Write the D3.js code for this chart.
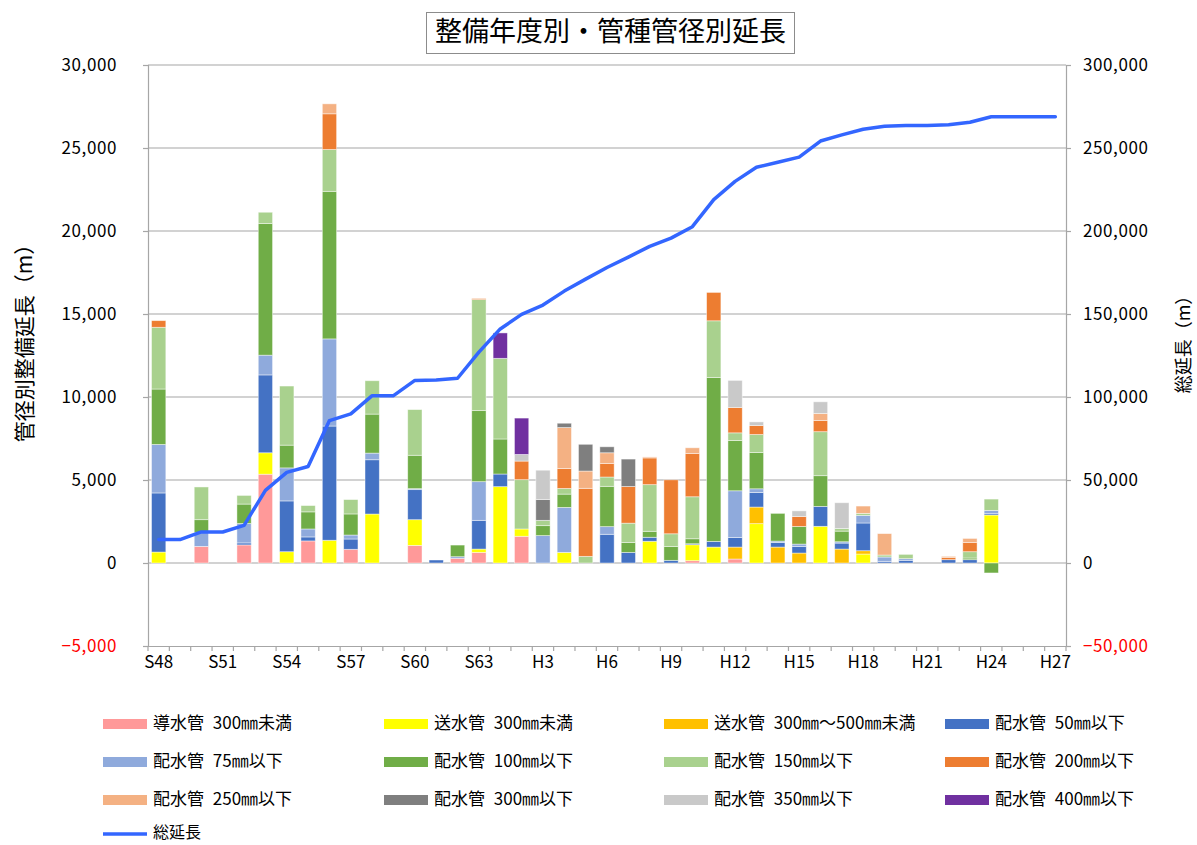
<!DOCTYPE html>
<html lang="ja">
<head>
<meta charset="utf-8">
<title>整備年度別・管種管径別延長</title>
<script src="https://cdn.jsdelivr.net/npm/d3@7"></script>
<style>
  html, body { margin: 0; padding: 0; background: #fff; }
  svg { display: block; font-family: "Noto Sans CJK JP", "Noto Sans", sans-serif; }
</style>
</head>
<body>
<svg id="chart" width="1197" height="845"></svg>
<script>
// 整備年度 (S48〜H27)
const years = ["S48","S49","S50","S51","S52","S53","S54","S55","S56","S57","S58","S59","S60","S61","S62","S63",
  "H1","H2","H3","H4","H5","H6","H7","H8","H9","H10","H11","H12","H13","H14","H15","H16","H17","H18","H19","H20",
  "H21","H22","H23","H24","H25","H26","H27"];
const tickYears = ["S48","S51","S54","S57","S60","S63","H3","H6","H9","H12","H15","H18","H21","H24","H27"];

// 管種・管径別 整備延長 (m)
const dousui300   = [0,0,1000,0,1090,5350,0,1330,0,825,0,0,1060,0,280,640,0,1610,0,0,0,0,0,0,0,140,0,240,0,0,0,0,0,0,0,0,0,0,0,0,0,0,0];
const sousui300   = [660,0,0,0,0,1290,680,0,1370,0,2950,0,1550,0,0,200,4600,440,0,640,0,0,0,1310,0,960,960,0,2370,0,0,2210,0,540,0,0,0,0,0,2890,0,0,0];
const sousui500   = [0,0,0,0,0,0,0,0,0,0,0,0,0,0,0,0,0,0,0,0,0,0,0,0,0,0,0,720,1000,960,600,0,840,200,0,0,0,0,0,0,0,0,0];
const haisui50    = [3560,0,0,0,120,4690,3060,240,6880,620,3270,0,1810,180,0,1730,760,0,0,0,0,1730,640,240,160,60,340,580,880,280,400,1200,360,1670,100,160,0,200,200,80,0,0,0];
const haisui75    = [2920,0,845,0,1170,1190,1990,480,5250,240,400,0,60,0,100,2330,0,0,1650,2710,0,460,0,0,0,0,0,2810,220,80,140,0,80,460,260,100,0,0,0,200,0,0,0];
const haisui100   = [3340,0,765,0,1170,7930,1370,1030,8890,1270,2350,0,2010,0,700,4280,2110,0,600,800,0,2430,600,360,840,300,9880,3030,2190,1670,1060,1850,640,0,0,0,0,0,100,-600,0,0,0];
const haisui150   = [3720,0,1970,0,520,680,3560,380,2520,865,2010,0,2750,0,0,6690,4860,2970,320,340,400,560,1160,2810,760,2530,3410,460,1080,0,0,2650,160,120,120,260,0,0,380,680,0,0,0];
const haisui200   = [400,0,0,0,0,0,0,0,2150,0,0,0,0,0,0,60,0,1120,0,1200,4100,820,2210,1610,3250,2610,1710,1530,540,0,600,680,0,0,0,0,0,140,560,0,0,0,0];
const haisui250   = [0,0,0,0,0,0,0,0,600,0,0,0,0,0,0,0,0,0,0,2470,1040,640,0,60,0,340,0,0,0,0,0,420,0,440,1290,0,0,60,240,0,0,0,0];
const haisui300   = [0,0,0,0,0,0,0,0,0,0,0,0,0,0,0,0,0,0,1250,260,1610,360,1650,0,0,0,0,0,0,0,0,0,0,0,0,0,0,0,0,0,0,0,0];
const haisui350   = [0,0,0,0,0,0,0,0,0,0,0,0,0,0,0,0,0,400,1770,0,0,0,0,0,0,0,0,1630,220,0,340,700,1550,0,0,0,0,0,0,0,0,0,0];
const haisui400   = [0,0,0,0,0,0,0,0,0,0,0,0,0,0,0,0,1530,2190,0,0,0,0,0,0,0,0,0,0,0,0,0,0,0,0,0,0,0,0,0,0,0,0,0];

// 総延長 (m)
const totalLength = [14100,14100,18700,18700,22700,43800,54600,58100,85800,89800,100800,100800,110000,110200,111300,127000,
  141000,149800,155400,163800,171000,178000,184300,190700,195700,202600,218900,229900,238400,241400,244500,254200,
  257900,261300,263100,263600,263600,264000,265500,268800,268800,268800,268800];

const seriesNames = ["導水管 300㎜未満","送水管 300㎜未満","送水管 300㎜～500㎜未満","配水管 50㎜以下",
  "配水管 75㎜以下","配水管 100㎜以下","配水管 150㎜以下","配水管 200㎜以下",
  "配水管 250㎜以下","配水管 300㎜以下","配水管 350㎜以下","配水管 400㎜以下"];
const seriesValues = [dousui300, sousui300, sousui500, haisui50, haisui75, haisui100, haisui150, haisui200,
  haisui250, haisui300, haisui350, haisui400];
const seriesColors = ["#FF9999","#FFFF00","#FFC000","#4472C4","#8FAADC","#70AD47","#A9D18E","#ED7D31",
  "#F4B183","#7F7F7F","#C9C9C9","#7030A0"];
const lineName = "総延長";
const lineColor = "#3366FF";

const svg = d3.select("#chart");
const plot = { left: 148, right: 1066, top: 65, bottom: 646 };

// 年度ごとの行データ
const rows = years.map((yr, i) => {
  const r = { year: yr };
  seriesNames.forEach((n, k) => { r[n] = seriesValues[k][i]; });
  return r;
});

const x = d3.scaleBand().domain(years).range([plot.left, plot.right])
  .paddingInner(0.33).paddingOuter(0.165);
const y = d3.scaleLinear().domain([-5000, 30000]).range([plot.bottom, plot.top]);
const y2 = d3.scaleLinear().domain([-50000, 300000]).range([plot.bottom, plot.top]);

const gridColor = "#A6A6A6";
const fmt = d3.format(",");

// 目盛線
svg.append("g").selectAll("line")
  .data(d3.range(0, 30001, 5000))
  .join("line")
  .attr("x1", plot.left).attr("x2", plot.right)
  .attr("y1", d => y(d)).attr("y2", d => y(d))
  .attr("stroke", gridColor).attr("stroke-width", 1.2);

// 積み上げ棒
const stack = d3.stack().keys(seriesNames).offset(d3.stackOffsetDiverging);
const layers = stack(rows);
svg.append("g").selectAll("g")
  .data(layers)
  .join("g")
  .attr("fill", (d, k) => seriesColors[k])
  .selectAll("rect")
  .data(d => d.filter(s => s[1] - s[0] !== 0))
  .join("rect")
  .attr("x", d => x(d.data.year))
  .attr("width", x.bandwidth())
  .attr("y", d => y(Math.max(d[0], d[1])))
  .attr("height", d => Math.abs(y(d[0]) - y(d[1])))
  .attr("stroke", "#ffffff").attr("stroke-opacity", 0.55).attr("stroke-width", 0.8);

// 左軸
const yAxis = d3.axisLeft(y).tickValues(d3.range(-5000, 30001, 5000)).tickSize(5).tickPadding(26).tickFormat(fmt);
const gl = svg.append("g").attr("transform", `translate(${plot.left},0)`).call(yAxis);
// 右軸
const y2Axis = d3.axisRight(y2).tickValues(d3.range(-50000, 300001, 50000)).tickSize(5).tickPadding(12).tickFormat(fmt);
const gr = svg.append("g").attr("transform", `translate(${plot.right},0)`).call(y2Axis);
// 横軸
const xAxis = d3.axisBottom(x).tickValues(tickYears).tickSize(0).tickPadding(10);
const gb = svg.append("g").attr("transform", `translate(0,${plot.bottom})`).call(xAxis);

[gl, gr, gb].forEach(g => {
  g.select(".domain").attr("stroke", gridColor).attr("stroke-width", 1.2);
  g.selectAll(".tick line").attr("stroke", gridColor).attr("stroke-width", 1.2);
  g.selectAll("text").attr("fill", "#000").attr("font-size", 17)
    .attr("font-family", "\"Noto Sans CJK JP\", sans-serif");
});
gl.selectAll(".tick text").attr("letter-spacing", 0.6).filter(d => d < 0).attr("fill", "#FF0000");
gr.selectAll(".tick text").attr("letter-spacing", 0.6).filter(d => d < 0).attr("fill", "#FF0000");

// 横軸の区切り目盛 (年度の境界)
const step = x.step();
const bounds = d3.range(years.length + 1).map(i => x(years[0]) - x.paddingInner() * step / 2 + i * step);
svg.append("g").selectAll("line")
  .data(bounds)
  .join("line")
  .attr("x1", d => d).attr("x2", d => d)
  .attr("y1", plot.bottom).attr("y2", plot.bottom + 5)
  .attr("stroke", gridColor).attr("stroke-width", 1.2);

// 総延長の折れ線
const line = d3.line()
  .x((d, i) => x(years[i]) + x.bandwidth() / 2)
  .y(d => y2(d));
svg.append("path")
  .datum(totalLength)
  .attr("d", line)
  .attr("fill", "none")
  .attr("stroke", lineColor)
  .attr("stroke-width", 3.5)
  .attr("stroke-linejoin", "round")
  .attr("stroke-linecap", "round");

// 軸タイトル
svg.append("text")
  .attr("transform", "translate(26,338) rotate(-90)")
  .attr("text-anchor", "middle").attr("dominant-baseline", "middle")
  .attr("font-size", 21).text("管径別整備延長（m）");
svg.append("text")
  .attr("transform", "translate(1185,340) rotate(-90)")
  .attr("text-anchor", "middle").attr("dominant-baseline", "middle")
  .attr("font-size", 18).text("総延長（m）");

// タイトル
svg.append("rect")
  .attr("x", 426.5).attr("y", 12.5).attr("width", 368).attr("height", 41)
  .attr("fill", "#fff").attr("stroke", "#8C8C8C").attr("stroke-width", 1);
svg.append("text")
  .attr("x", 610.5).attr("y", 34)
  .attr("text-anchor", "middle").attr("dominant-baseline", "middle")
  .attr("font-size", 27).text("整備年度別・管種管径別延長");

// 凡例
const legCols = [103, 384, 664, 945];
const legRows = [724, 762, 800, 834];
const legend = svg.append("g");
seriesNames.forEach((n, k) => {
  const cx = legCols[k % 4], cy = legRows[Math.floor(k / 4)];
  legend.append("rect").attr("x", cx).attr("y", cy - 5).attr("width", 44).attr("height", 10)
    .attr("fill", seriesColors[k]);
  legend.append("text").attr("x", cx + 50).attr("y", cy).attr("dominant-baseline", "middle")
    .attr("font-size", 17).attr("word-spacing", 5).text(n);
});
legend.append("line").attr("x1", legCols[0]).attr("x2", legCols[0] + 44)
  .attr("y1", legRows[3]).attr("y2", legRows[3])
  .attr("stroke", lineColor).attr("stroke-width", 3.5);
legend.append("text").attr("x", legCols[0] + 50).attr("y", legRows[3]).attr("dominant-baseline", "middle")
  .attr("font-size", 16).text(lineName);
</script>
</body>
</html>
